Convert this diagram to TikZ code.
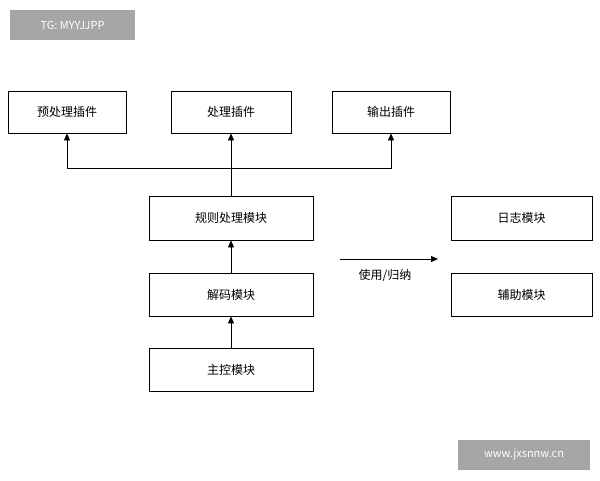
\documentclass[tikz,border=0pt]{standalone}
\usepackage{fontspec}
\setmainfont{Noto Sans CJK SC}
\usetikzlibrary{arrows.meta}
\begin{document}
\begin{tikzpicture}[x=1pt,y=-1pt,
  box/.style={draw,line width=0.8pt,inner sep=0pt,font=\fontsize{12}{14}\selectfont},
  arr/.style={line width=0.8pt,-{Triangle[length=7pt,width=6pt]}},
  wm/.style={fill=black!35,text=white,inner sep=0pt,font=\fontsize{11}{13}\selectfont}]
\useasboundingbox (0,0) rectangle (600,480);
\fill[white] (0,0) rectangle (600,480);
\node[wm,minimum width=125,minimum height=30] (w1) at (72.5,25) {TG: MYYJJPP};
\node[wm,minimum width=132,minimum height=30] (w2) at (524,455) {www.jxsnnw.cn};
\node[box,minimum width=118,minimum height=42] (pre) at (67,112) {预处理插件};
\node[box,minimum width=120,minimum height=42] (proc) at (231,112) {处理插件};
\node[box,minimum width=118,minimum height=42] (out) at (391,112) {输出插件};
\node[box,minimum width=164,minimum height=44] (rule) at (231,218) {规则处理模块};
\node[box,minimum width=164,minimum height=43] (dec) at (231,294.5) {解码模块};
\node[box,minimum width=164,minimum height=43] (main) at (231,369.5) {主控模块};
\node[box,minimum width=141,minimum height=44] (log) at (521.5,218) {日志模块};
\node[box,minimum width=141,minimum height=43] (aux) at (521.5,294.5) {辅助模块};
\coordinate (j) at (231,168);
\draw[line width=0.8pt] (rule.north) -- (j);
\draw[arr] (j) -| (pre.south);
\draw[arr] (j) -| (out.south);
\draw[arr] (j) -- (proc.south);
\draw[arr] (dec.north) -- (rule.south);
\draw[arr] (main.north) -- (dec.south);
\coordinate (a1) at (340,259);
\coordinate (a2) at (438,259);
\draw[arr] (a1) -- (a2);
\node[font=\fontsize{12}{14}\selectfont] (lbl) at (385,276) {使用/归纳};
\end{tikzpicture}
\end{document}
